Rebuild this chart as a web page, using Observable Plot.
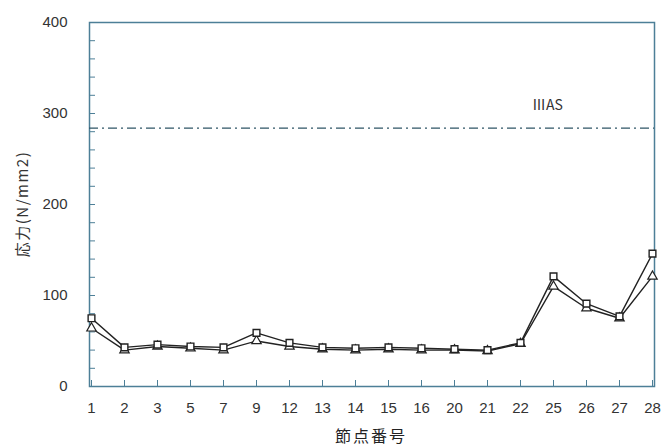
<!DOCTYPE html>
<html>
<head>
<meta charset="utf-8">
<script src="https://cdn.jsdelivr.net/npm/d3@7"></script>
<script src="https://cdn.jsdelivr.net/npm/@observablehq/plot@0.6"></script>
<style>
  html, body { margin: 0; padding: 0; background: #fff; }
  #chart { position: relative; width: 664px; height: 446px; }
  #ylab { position: absolute; left: 21px; top: 204px; transform: translate(-50%, -50%) rotate(-90deg); transform-origin: center;
          font-family: "Noto Sans CJK JP", sans-serif; font-size: 15px; letter-spacing: 1.5px; color: #333; white-space: nowrap; }
  #xlab { position: absolute; left: 371px; top: 423px; transform: translateX(-50%);
          font-family: "Noto Sans CJK JP", sans-serif; font-size: 16px; letter-spacing: 2px; color: #222; white-space: nowrap; }
</style>
</head>
<body>
<div id="chart"></div>
<script>
const nodes = ["1","2","3","5","7","9","12","13","14","15","16","20","21","22","25","26","27","28"];
const seriesSquare = [75, 43, 46, 44, 43, 59, 48, 43, 42, 43, 42, 41, 40, 48, 121, 91, 77, 146];
const seriesTriangle = [64, 40, 44, 42, 40, 50, 44, 41, 40, 41, 40, 40, 39, 47, 110, 86, 75, 121];
const yTicks = [0, 100, 200, 300, 400];
const yMinorTicks = d3.range(0, 401, 20);
const limitValue = 284;
const limitLabel = "ⅢAS";
const limitLabelAt = { x: "25", y: 309 };
const yTitle = "応力(N/mm2)";
const xTitle = "節点番号";

const sq = nodes.map((n, i) => ({ node: n, v: seriesSquare[i] }));
const tri = nodes.map((n, i) => ({ node: n, v: seriesTriangle[i] }));
const axisColor = "#4d7f97";

const plot = Plot.plot({
  width: 664,
  height: 446,
  marginLeft: 89,
  marginRight: 10,
  marginTop: 22,
  marginBottom: 60,
  style: { fontFamily: "Liberation Sans, Arial, sans-serif", fontSize: "15px", color: "#333", background: "#fff" },
  x: { type: "point", domain: nodes, padding: 0 },
  y: { domain: [0, 400] },
  marks: [
    Plot.frame({ stroke: axisColor, strokeWidth: 1.5 }),
    Plot.axisY({ ticks: yMinorTicks, tickSize: -6, tickFormat: () => "", stroke: axisColor, label: null }),
    Plot.axisY({ ticks: yTicks, tickSize: 0, tickPadding: 22, label: null, fill: "#333", fontSize: 15 }),
    Plot.axisX({ tickSize: -6, tickFormat: () => "", stroke: axisColor, label: null }),
    Plot.axisX({ tickSize: 0, tickPadding: 16, label: null, fill: "#333", fontSize: 15 }),
    Plot.ruleY([limitValue], { stroke: "#2f5566", strokeWidth: 1.3, strokeDasharray: "9,4,2,4" }),
    Plot.text([limitLabelAt], { x: "x", y: "y", text: () => limitLabel, dx: -6, fill: "#333", fontSize: 14, fontFamily: "Noto Sans CJK JP, sans-serif" }),
    Plot.line(tri, { x: "node", y: "v", stroke: "#222", strokeWidth: 1.4 }),
    Plot.line(sq, { x: "node", y: "v", stroke: "#222", strokeWidth: 1.4 }),
    Plot.dot(tri, { x: "node", y: "v", symbol: "triangle", r: 3.5, fill: "white", stroke: "#222", strokeWidth: 1.2 }),
    Plot.dot(sq, { x: "node", y: "v", symbol: "square", r: 3.8, fill: "white", stroke: "#222", strokeWidth: 1.4 })
  ]
});
const chart = document.getElementById("chart");
chart.appendChild(plot);
const yl = document.createElement("div"); yl.id = "ylab"; yl.textContent = yTitle; chart.appendChild(yl);
const xl = document.createElement("div"); xl.id = "xlab"; xl.textContent = xTitle; chart.appendChild(xl);
</script>
</body>
</html>
